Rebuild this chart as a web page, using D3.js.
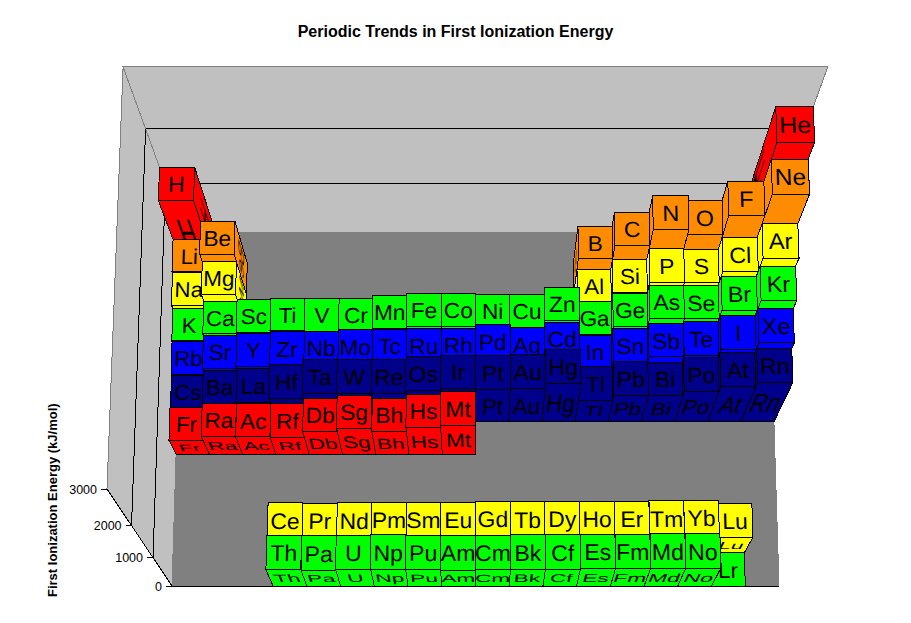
<!DOCTYPE html>
<html><head><meta charset="utf-8">
<script src="https://cdn.jsdelivr.net/npm/d3@7"></script>
<style>html,body{margin:0;padding:0;background:#fff}svg{display:block}text{font-family:"Liberation Sans",Arial,sans-serif;fill:#000}</style>
</head><body><svg id="c" width="911" height="623"></svg>
<script>
// first ionization energy (kJ/mol), one list per row of the table
const allCols = d3.range(18);
const period1Symbols = ["H","He"];
const period1Values = [1312,2372];
const period1Cols = [0,17];
const period2Symbols = ["Li","Be","B","C","N","O","F","Ne"];
const period2Values = [520,900,801,1086,1402,1314,1681,2081];
const period2Cols = [0,1,12,13,14,15,16,17];
const period3Symbols = ["Na","Mg","Al","Si","P","S","Cl","Ar"];
const period3Values = [496,738,578,787,1012,1000,1251,1521];
const period4Symbols = ["K","Ca","Sc","Ti","V","Cr","Mn","Fe","Co","Ni","Cu","Zn","Ga","Ge","As","Se","Br","Kr"];
const period4Values = [419,590,633,659,651,653,717,762,760,737,746,906,579,762,947,941,1140,1351];
const period5Symbols = ["Rb","Sr","Y","Zr","Nb","Mo","Tc","Ru","Rh","Pd","Ag","Cd","In","Sn","Sb","Te","I","Xe"];
const period5Values = [403,550,600,640,652,684,702,710,720,804,731,868,558,709,834,869,1008,1170];
const period6Symbols = ["Cs","Ba","La","Hf","Ta","W","Re","Os","Ir","Pt","Au","Hg","Tl","Pb","Bi","Po","At","Rn"];
const period6Values = [376,503,538,642,761,770,760,840,880,870,890,1007,589,716,703,812,930,1037];
const period7Symbols = ["Fr","Ra","Ac","Rf","Db","Sg","Bh","Hs","Mt"];
const period7Values = [400,509,499,490,640,720,640,745,820];
const lanthanideSymbols = ["Ce","Pr","Nd","Pm","Sm","Eu","Gd","Tb","Dy","Ho","Er","Tm","Yb","Lu"];
const lanthanideValues = [534,527,533,536,545,547,593,565,572,581,589,597,603,524];
const actinideSymbols = ["Th","Pa","U","Np","Pu","Am","Cm","Bk","Cf","Es","Fm","Md","No","Lr"];
const actinideValues = [587,568,598,605,585,578,581,601,608,619,627,635,642,0];
const valueTicks = [0,1000,2000,3000];
const titleText = "Periodic Trends in First Ionization Energy";
const axisTitleText = "First Ionization Energy (kJ/mol)";

const table = [
  {row:10,color:"#ff0000",sym:period1Symbols,val:period1Values,cols:period1Cols},
  {row:9,color:"#ff8c00",sym:period2Symbols,val:period2Values,cols:period2Cols},
  {row:8,color:"#ffff00",sym:period3Symbols,val:period3Values,cols:period2Cols},
  {row:7,color:"#00ff00",sym:period4Symbols,val:period4Values,cols:allCols},
  {row:6,color:"#0000ff",sym:period5Symbols,val:period5Values,cols:allCols},
  {row:5,color:"#00008b",sym:period6Symbols,val:period6Values,cols:allCols},
  {row:4,color:"#ff0000",sym:period7Symbols,val:period7Values,cols:allCols},
  {row:1,color:"#ffff00",sym:lanthanideSymbols,val:lanthanideValues,cols:d3.range(3,17)},
  {row:0,color:"#00ff00",sym:actinideSymbols,val:actinideValues,cols:d3.range(3,17)}
];

const xScale = d3.scaleLinear().domain([0,18]).range([0,1]);
const zScale = d3.scaleLinear().domain([0,11]).range([0,1]);
const vScale = d3.scaleLinear().domain([0,3000]).range([0,1]);

// projective camera fitted to the box corners
const O=[172,586], XE=[779,586], ZE=[183,232], VE=[107,489], VPV=[476,1045], VPZx=476;
const e=(ZE[0]-O[0])/(VPZx-ZE[0]);
const zA=[ZE[0]*(1+e)-O[0], ZE[1]*(1+e)-O[1]];
const f=(VE[0]-O[0])/(VPV[0]-VE[0]);
const vA=[VE[0]*(1+f)-O[0], VE[1]*(1+f)-O[1]];
function P(X,Z,V){
  const w=1+e*Z+f*V;
  return [(O[0]+(XE[0]-O[0])*X+zA[0]*Z+vA[0]*V)/w,(O[1]+zA[1]*Z+vA[1]*V)/w];
}
const pts=a=>a.map(p=>p.join(",")).join(" ");
const svg=d3.select("#c");

// walls and floor
const walls=svg.append("g").attr("shape-rendering","crispEdges");
walls.append("polygon").attr("points",pts([P(0,0,0),P(0,0,1),P(0,1,1),P(0,1,0)])).attr("fill","#c0c0c0").attr("stroke","#808080");
walls.append("polygon").attr("points",pts([P(0,1,0),P(0,1,1),P(1,1,1),P(1,1,0)])).attr("fill","#c0c0c0").attr("stroke","#808080");
walls.append("polygon").attr("points",pts([P(0,0,0),P(1,0,0),P(1,1,0),P(0,1,0)])).attr("fill","#808080").attr("stroke","#808080");
const gridValues=valueTicks.filter(d=>d>0&&d<3000);
const line=(a,b,col)=>svg.append("line").attr("x1",a[0]).attr("y1",a[1]).attr("x2",b[0]).attr("y2",b[1]).attr("stroke",col).attr("stroke-width",1).attr("shape-rendering","crispEdges");
gridValues.forEach(d=>{const v=vScale(d);
  line(P(0,0,v),P(0,1,v),"#000");line(P(0,1,v),P(1,1,v),"#000");});
line(P(0,0,0),P(1,0,0),"#000");
line(P(0,0,0),P(0,0,1),"#000");

// axis
valueTicks.forEach(d=>{const p=P(0,0,vScale(d));
  line([p[0]-6,p[1]],p,"#000");
  svg.append("text").attr("x",p[0]-10).attr("y",p[1]+4.5).attr("text-anchor","end").attr("font-size",12.5).text(d);
});
svg.append("text").attr("transform","translate(56.5,597) rotate(-90)").attr("font-size",13).attr("font-weight","bold").text(axisTitleText);
svg.append("text").attr("x",455.5).attr("y",37).attr("text-anchor","middle").attr("font-size",16).attr("font-weight","bold").text(titleText);

// bars
const FS=66;
function label(g,q,s){ // q: tl,tr,br,bl
  const ax=((q[1][0]-q[0][0])+(q[2][0]-q[3][0]))/200, ay=((q[1][1]-q[0][1])+(q[2][1]-q[3][1]))/200;
  const cx=((q[3][0]-q[0][0])+(q[2][0]-q[1][0]))/200, cy=((q[3][1]-q[0][1])+(q[2][1]-q[1][1]))/200;
  const mx=d3.mean(q,p=>p[0]), my=d3.mean(q,p=>p[1]);
  g.append("text").attr("transform",`matrix(${ax},${ay},${cx},${cy},${mx},${my})`)
   .attr("y",FS*0.38).attr("text-anchor","middle").attr("font-size",FS).text(s);
}
function face(g,q,color,s){
  g.append("polygon").attr("points",pts(q)).attr("fill",color).attr("stroke","#000").attr("stroke-width",1).attr("shape-rendering","crispEdges");
  label(g,q,s);
}
const barsG=svg.append("g");
table.forEach(t=>{
  const items=t.sym.map((s,i)=>({s,v:t.val[i],c:t.cols[i]}));
  items.sort((a,b)=>Math.abs(b.c+0.5-9)-Math.abs(a.c+0.5-9));
  const Z0=zScale(t.row), Z1=zScale(t.row+1);
  const gs=barsG.selectAll(null).data(items).join("g");
  gs.each(function(d){
    const g=d3.select(this), X0=xScale(d.c), X1=xScale(d.c+1), V=vScale(d.v);
    const sideX = d.c<9 ? X1 : X0;
    // side (edge-on at the centre line, so skipped there), front, top
    if(V>0){
      if(sideX!==0.5) face(g,[P(sideX,Z1,V),P(sideX,Z0,V),P(sideX,Z0,0),P(sideX,Z1,0)],t.color,d.s);
      face(g,[P(X0,Z0,V),P(X1,Z0,V),P(X1,Z0,0),P(X0,Z0,0)],t.color,d.s);
    }
    face(g,[P(X0,Z1,V),P(X1,Z1,V),P(X1,Z0,V),P(X0,Z0,V)],t.color,d.s);
  });
});
</script></body></html>
